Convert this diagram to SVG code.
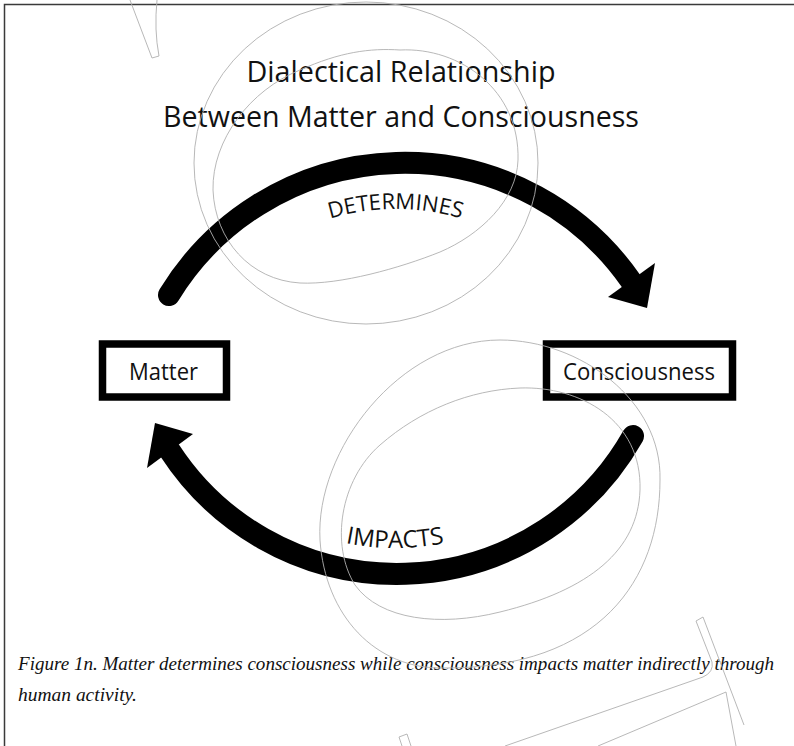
<svg xmlns="http://www.w3.org/2000/svg" width="794" height="746" viewBox="0 0 794 746">
  <defs>
    <style>
      .frame{fill:none;stroke:#3a3a3a;stroke-width:1.5}
      .wm{fill:none;stroke:#b0b0b0;stroke-width:0.9}
      .title{font-family:"Open Sans","Noto Sans",sans-serif;font-size:30px;fill:#111;text-anchor:middle}
      .box{fill:#fff;stroke:#000;stroke-width:7.5}
      .lbl{font-family:"Open Sans","Noto Sans",sans-serif;font-size:24px;fill:#111;text-anchor:middle}
      .arc{fill:none;stroke:#000;stroke-width:22;stroke-linecap:round}
      .head{fill:#000}
      .arclbl{font-family:"Open Sans","Noto Sans",sans-serif;fill:#111}
      .cap{font-family:"Liberation Serif","Times New Roman",serif;font-style:italic;font-size:19px;fill:#111}
    </style>
    <!-- baselines for the curved arrow labels -->
    <path id="detPath" d="M165.5,439 A230,230 0 0 1 625.5,439"/>
    <path id="impPath" d="M144,297 A251,251 0 0 0 646,297"/>
  </defs>

  <rect width="794" height="746" fill="#fff"/>
  <path class="frame" d="M4.5,746 V4.5 H794"/>

  <g id="title">
    <text class="title" x="401" y="82" textLength="309" lengthAdjust="spacingAndGlyphs">Dialectical Relationship</text>
    <text class="title" x="401" y="127" textLength="476" lengthAdjust="spacingAndGlyphs">Between Matter and Consciousness</text>
  </g>

  <g id="connectors">
    <g id="edge-determines">
      <path class="arc" d="M169,295 A276,276 0 0 1 631,281"/>
      <polygon class="head" points="655,263 647,308 608,297"/>
      <text class="arclbl" font-size="22"><textPath href="#detPath" startOffset="50%" text-anchor="middle">DETERMINES</textPath></text>
    </g>
    <g id="edge-impacts">
      <path class="arc" d="M633,436 A271,271 0 0 1 170,451"/>
      <polygon class="head" points="155,423 193,434 147,468"/>
      <text class="arclbl" font-size="24"><textPath href="#impPath" startOffset="50%" text-anchor="middle">IMPACTS</textPath></text>
    </g>
  </g>

  <g id="node-matter">
    <rect class="box" x="102.5" y="344" width="124" height="53"/>
    <text class="lbl" x="163.5" y="380" textLength="69" lengthAdjust="spacingAndGlyphs">Matter</text>
  </g>

  <g id="node-consciousness">
    <rect class="box" x="546.5" y="344" width="186" height="53"/>
    <text class="lbl" x="639" y="380" textLength="152" lengthAdjust="spacingAndGlyphs">Consciousness</text>
  </g>

  <g id="caption">
    <text class="cap" x="18" y="670" textLength="756" lengthAdjust="spacingAndGlyphs">Figure 1n. Matter determines consciousness while consciousness impacts matter indirectly through</text>
    <text class="cap" x="18" y="701" textLength="119" lengthAdjust="spacingAndGlyphs">human activity.</text>
  </g>

  <!-- faint background line-art -->
  <g id="background-lines" class="wm">
    <path d="M130,0 L152,58 L159,56 Q154,30 157,0"/>
    <ellipse cx="366" cy="163" rx="172" ry="161"/>
    <path d="M300,70 C340,52 370,48 400,50 C460,47 520,90 518,160 C517,200 480,235 440,252 C400,268 340,285 300,283 C250,280 215,240 213,190 C212,140 250,90 300,70 Z"/>
    <path d="M500,340 C580,340 662,400 660,480 C660,580 600,668 445,668 C375,670 325,615 320,540 C315,450 400,340 500,340 Z"/>
    <path d="M520,388 C580,386 642,420 640,490 C638,550 590,590 500,612 C440,627 380,620 355,585 C330,545 340,480 380,445 C420,410 470,390 520,388 Z"/>
    <path d="M696,621 L703,617 L744,725"/>
    <path d="M696,621 L712,662 Q714,672 703,677 L505,746"/>
    <path d="M598,746 L726,692 L736,746"/>
    <path d="M402,746 L399,737 L407,734 L411,746"/>
  </g>
</svg>
